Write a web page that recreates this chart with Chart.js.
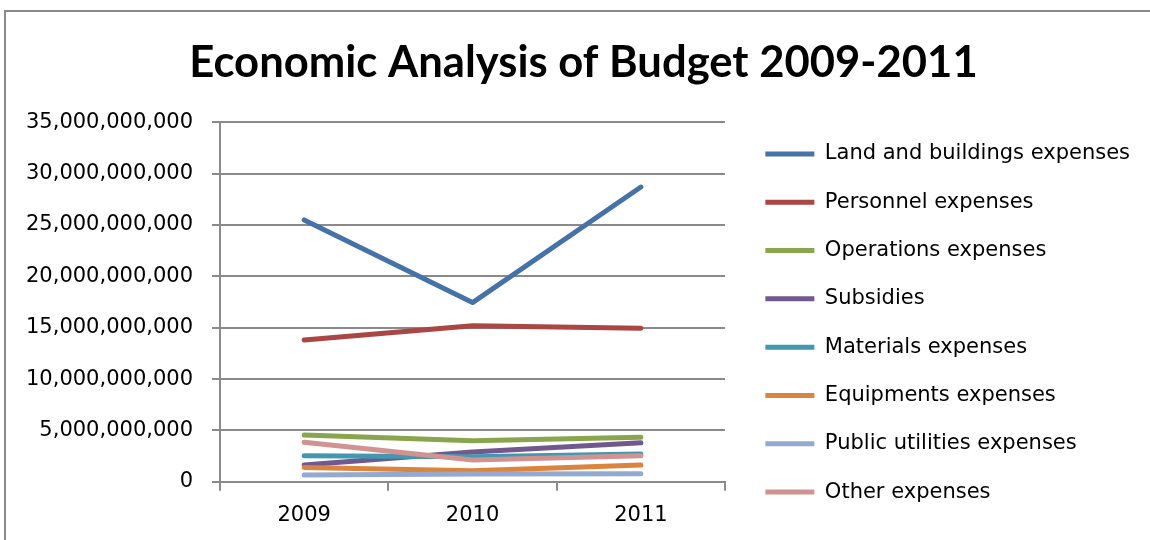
<!DOCTYPE html>
<html>
<head>
<meta charset="utf-8">
<title>Economic Analysis of Budget 2009-2011</title>
<script src="https://cdn.jsdelivr.net/npm/chart.js@4.4.1/dist/chart.umd.min.js"></script>
<style>
    html, body { margin: 0; padding: 0; background: #ffffff; overflow: hidden; }
    #wrap { position: relative; width: 1150px; height: 540px; overflow: hidden; }
    #budgetChart { position: absolute; left: 0; top: 0; }
    #frame {
        position: absolute; left: 4px; top: 10px; width: 1300px; height: 700px;
        border: 2px solid #8a8a8a; pointer-events: none;
    }
</style>
</head>
<body>
<div id="wrap">
    <canvas id="budgetChart" width="1166" height="540"></canvas>
    <div id="frame"></div>
</div>
<script>
// Budget by economic category, in currency units
const years = ['2009', '2010', '2011'];
const landBuildings = [25500000000, 17450000000, 28700000000];
const personnel = [13800000000, 15200000000, 14950000000];
const operations = [4560000000, 4000000000, 4330000000];
const subsidies = [1630000000, 2900000000, 3800000000];
const materials = [2540000000, 2440000000, 2700000000];
const equipments = [1400000000, 1070000000, 1630000000];
const publicUtilities = [650000000, 750000000, 780000000];
const otherExpenses = [3840000000, 2120000000, 2540000000];

const seriesNames = [
    'Land and buildings expenses',
    'Personnel expenses',
    'Operations expenses',
    'Subsidies',
    'Materials expenses',
    'Equipments expenses',
    'Public utilities expenses',
    'Other expenses'
];
const seriesValues = [landBuildings, personnel, operations, subsidies, materials, equipments, publicUtilities, otherExpenses];
const seriesColors = ['#4572A7', '#AA4643', '#89A54E', '#71588F', '#4198AF', '#DB843D', '#93A9CF', '#D19392'];

const yTicks = { min: 0, max: 35000000000, step: 5000000000 };

const gridColor = '#8a8a8a';
const tickFont = { family: "'DejaVu Sans', sans-serif", size: 21 };

const datasets = seriesNames.map((name, i) => ({
    label: name,
    data: seriesValues[i],
    borderColor: seriesColors[i],
    backgroundColor: seriesColors[i],
    borderWidth: 5,
    borderCapStyle: 'round',
    borderJoinStyle: 'round',
    pointRadius: 0,
    pointHoverRadius: 0,
    tension: 0,
    fill: false,
    // later series sit on top of earlier ones
    order: -i
}));

const ctx = document.getElementById('budgetChart').getContext('2d');

new Chart(ctx, {
    type: 'line',
    data: { labels: years, datasets: datasets },
    options: {
        responsive: false,
        animation: false,
        devicePixelRatio: 1,
        layout: { padding: { left: 27, right: 26, top: 0, bottom: 0 } },
        plugins: {
            title: {
                display: true,
                text: 'Economic Analysis of Budget 2009-2011',
                color: '#000000',
                font: { family: "Lato, 'Open Sans', sans-serif", size: 43.6, weight: 'bold' },
                padding: { top: 37, bottom: 33 }
            },
            legend: {
                position: 'right',
                align: 'center',
                maxWidth: 420,
                title: {
                    display: true,
                    text: '',
                    font: { size: 10 },
                    padding: { top: 94, bottom: 0 }
                },
                labels: {
                    usePointStyle: true,
                    pointStyle: 'line',
                    pointStyleWidth: 49,
                    padding: 27.3,
                    color: '#000000',
                    font: { family: "'DejaVu Sans', sans-serif", size: 21 },
                    sort: (a, b) => a.datasetIndex - b.datasetIndex
                }
            },
            tooltip: { enabled: false }
        },
        scales: {
            x: {
                type: 'category',
                offset: true,
                grid: {
                    offset: true,
                    drawOnChartArea: false,
                    drawTicks: true,
                    tickLength: 9,
                    color: gridColor,
                    lineWidth: 2
                },
                border: { display: true, color: gridColor, width: 2 },
                ticks: { color: '#000000', font: tickFont, padding: 12 }
            },
            y: {
                min: yTicks.min,
                max: yTicks.max,
                grid: {
                    color: gridColor,
                    lineWidth: 2,
                    drawTicks: true,
                    tickLength: 8
                },
                border: { display: true, color: gridColor, width: 2 },
                ticks: {
                    stepSize: yTicks.step,
                    color: '#000000',
                    font: tickFont,
                    padding: 19,
                    callback: (value) => value.toLocaleString('en-US')
                },
                // keep the full label width instead of the layout's cap
                afterFit: (scale) => { scale.width = 193; }
            },
            // empty spacer between the plot and the legend
            gap: {
                type: 'linear',
                position: 'right',
                display: true,
                grid: { display: false },
                border: { display: false },
                ticks: { display: false },
                afterFit: (scale) => { scale.width = 13; }
            }
        }
    }
});
</script>
</body>
</html>
